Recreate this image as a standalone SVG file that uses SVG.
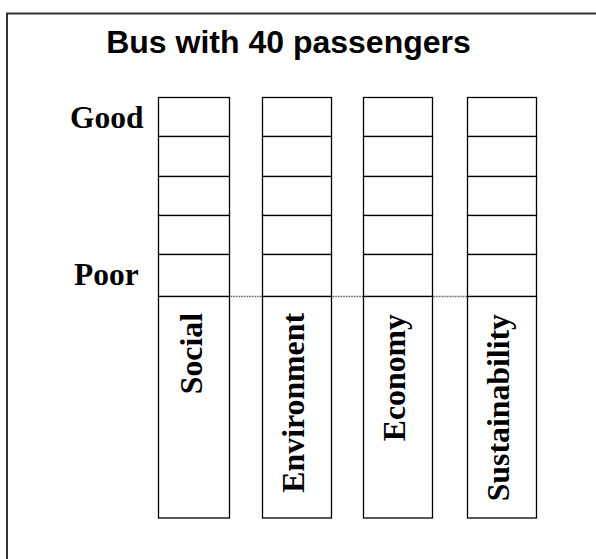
<svg xmlns="http://www.w3.org/2000/svg" width="596" height="559" viewBox="0 0 596 559">
<style>
.cell{fill:#fff;stroke:#000;stroke-width:1.3}
.lbl{font-family:"Liberation Serif","Times New Roman",serif;font-weight:bold;font-size:31.5px;fill:#000}
.vl{font-family:"Liberation Serif","Times New Roman",serif;font-weight:bold;font-size:31.8px;fill:#000;text-anchor:end}
.dot{stroke:#666;stroke-width:1.6;stroke-dasharray:1 0.6;fill:none}
</style>
<rect x="0" y="0" width="596" height="559" fill="#fff"/>
<rect x="7" y="13.5" width="600" height="560" fill="none" stroke="#333" stroke-width="2"/>
<text x="288.5" y="53" text-anchor="middle" font-family="Liberation Sans, Arial, sans-serif" font-weight="bold" font-size="32">Bus with 40 passengers</text>
<text class="lbl" x="70" y="127.5">Good</text>
<text class="lbl" x="74" y="285">Poor</text>
<g id="connectors">
<line class="dot" x1="229.5" y1="296.5" x2="262.5" y2="296.5"/>
<line class="dot" x1="331.5" y1="296.5" x2="363.5" y2="296.5"/>
<line class="dot" x1="432.5" y1="296.5" x2="467.5" y2="296.5"/>
</g>
<g id="social">
<rect class="cell" x="158.5" y="97.5" width="71" height="39"/>
<rect class="cell" x="158.5" y="136.5" width="71" height="40"/>
<rect class="cell" x="158.5" y="176.5" width="71" height="39"/>
<rect class="cell" x="158.5" y="215.5" width="71" height="39"/>
<rect class="cell" x="158.5" y="254.5" width="71" height="42"/>
<rect class="cell" x="158.5" y="296.5" width="71" height="221.5"/>
<text class="vl" transform="translate(201.5,313) rotate(-90)">Social</text>
</g>
<g id="environment">
<rect class="cell" x="262.5" y="97.5" width="69" height="39"/>
<rect class="cell" x="262.5" y="136.5" width="69" height="40"/>
<rect class="cell" x="262.5" y="176.5" width="69" height="39"/>
<rect class="cell" x="262.5" y="215.5" width="69" height="39"/>
<rect class="cell" x="262.5" y="254.5" width="69" height="42"/>
<rect class="cell" x="262.5" y="296.5" width="69" height="221.5"/>
<text class="vl" transform="translate(304,313) rotate(-90)">Environment</text>
</g>
<g id="economy">
<rect class="cell" x="363.5" y="97.5" width="69" height="39"/>
<rect class="cell" x="363.5" y="136.5" width="69" height="40"/>
<rect class="cell" x="363.5" y="176.5" width="69" height="39"/>
<rect class="cell" x="363.5" y="215.5" width="69" height="39"/>
<rect class="cell" x="363.5" y="254.5" width="69" height="42"/>
<rect class="cell" x="363.5" y="296.5" width="69" height="221.5"/>
<text class="vl" transform="translate(405,314) rotate(-90)">Economy</text>
</g>
<g id="sustainability">
<rect class="cell" x="467.5" y="97.5" width="69" height="39"/>
<rect class="cell" x="467.5" y="136.5" width="69" height="40"/>
<rect class="cell" x="467.5" y="176.5" width="69" height="39"/>
<rect class="cell" x="467.5" y="215.5" width="69" height="39"/>
<rect class="cell" x="467.5" y="254.5" width="69" height="42"/>
<rect class="cell" x="467.5" y="296.5" width="69" height="221.5"/>
<text class="vl" transform="translate(509,314) rotate(-90)">Sustainability</text>
</g>
</svg>
